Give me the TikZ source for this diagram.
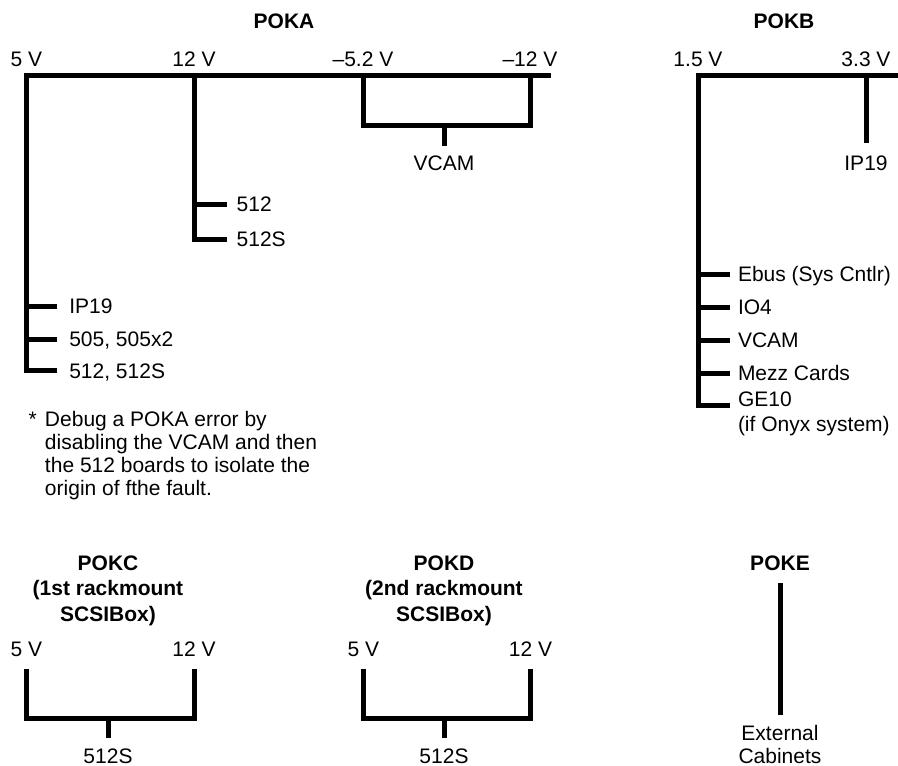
\documentclass[tikz,border=0pt]{standalone}
\usepackage{fontspec}
\setmainfont{Liberation Sans}
\begin{document}
\begin{tikzpicture}[x=1pt,y=-1pt,
  wire/.style={line width=5pt, line join=miter, line cap=butt},
  txt/.style={inner sep=0pt, outer sep=0pt, font=\fontsize{21}{24}\selectfont},
  ttl/.style={txt, anchor=base, font=\fontsize{21}{24}\selectfont\bfseries},
  volt/.style={txt, anchor=base},
  lab/.style={txt, anchor=base west},
  clab/.style={txt, anchor=base}]
\useasboundingbox (0,0) rectangle (898,766);

% ---------------- POKA ----------------
\node[ttl] (pokaT) at (284,28.5) {POKA};
\node[volt] (a5v)  at (26.5,66.5) {5 V};
\node[volt] (a12v) at (194,66.5) {12 V};
\node[volt] (am5v) at (363,66.5) {–5.2 V};
\node[volt] (am12v) at (530,66.5) {–12 V};

\coordinate (aBusL) at (26.5,75);
\coordinate (aBusR) at (550.7,75);
\coordinate (a5bot) at (26.5,370.5);
\coordinate (a5s3) at (56.7,370.5);
\coordinate (a5s1a) at (26.5,306.5); \coordinate (a5s1b) at (56.7,306.5);
\coordinate (a5s2a) at (26.5,339.3); \coordinate (a5s2b) at (56.7,339.3);
\coordinate (a12top) at (194,75);
\coordinate (a12bot) at (194,239.3);
\coordinate (a12s2) at (226.7,239.3);
\coordinate (a12s1a) at (194,204); \coordinate (a12s1b) at (226.7,204);
\coordinate (am5top) at (363,75); \coordinate (am5bot) at (363,125.5);
\coordinate (am12top) at (530,75); \coordinate (am12bot) at (530,125.5);
\coordinate (avcA) at (444,125.5); \coordinate (avcB) at (444,146);

\draw[wire] (a5s3) -- (a5bot) -- (aBusL) -- (aBusR);
\draw[wire] (a5s1a) -- (a5s1b);
\draw[wire] (a5s2a) -- (a5s2b);
\draw[wire] (a12top) -- (a12bot) -- (a12s2);
\draw[wire] (a12s1a) -- (a12s1b);
\draw[wire] (am5top) -- (am5bot) -- (am12bot) -- (am12top);
\draw[wire] (avcA) -- (avcB);

\node[clab] (aVCAM) at (444,170.5) {VCAM};
\node[lab] (a512) at (236.7,211.5) {512};
\node[lab] (a512S) at (236.7,246.5) {512S};
\node[lab] (aIP19) at (69.3,313.5) {IP19};
\node[lab] (a505) at (69.3,346.5) {505, 505x2};
\node[lab] (a512b) at (69.3,378.5) {512, 512S};

\node[lab] (fnStar) at (28.5,426.5) {*};
\node[lab] (fn1) at (45,426.5) {Debug a POKA error by};
\node[lab] (fn2) at (45,449.5) {disabling the VCAM and then};
\node[lab] (fn3) at (45,472.5) {the 512 boards to isolate the};
\node[lab] (fn4) at (45,495.5) {origin of fthe fault.};

% ---------------- POKB ----------------
\node[ttl] (pokbT) at (784,28.5) {POKB};
\node[volt] (b15v) at (698,66.5) {1.5 V};
\node[volt] (b33v) at (866,66.5) {3.3 V};
\coordinate (bBusL) at (698,75);
\coordinate (bBusR) at (900,75);
\coordinate (bbot) at (698,405);
\coordinate (bs5) at (730,405);
\coordinate (b33top) at (866,75); \coordinate (b33bot) at (866,142.5);
\draw[wire] (bs5) -- (bbot) -- (bBusL) -- (bBusR);
\draw[wire] (b33top) -- (b33bot);
\foreach \yy/\nm in {274/1,307/2,340/3,373/4}{
  \coordinate (bsA\nm) at (698,\yy); \coordinate (bsB\nm) at (730,\yy);
  \draw[wire] (bsA\nm) -- (bsB\nm);
}
\node[clab] (bIP19) at (866,170.5) {IP19};
\node[lab] (bEbus) at (738,281) {Ebus (Sys Cntlr)};
\node[lab] (bIO4) at (738,314) {IO4};
\node[lab] (bVCAM) at (738,347) {VCAM};
\node[lab] (bMezz) at (738,380) {Mezz Cards};
\node[lab] (bGE10) at (738,406.5) {GE10};
\node[lab] (bOnyx) at (738,431) {(if Onyx system)};

% ---------------- POKC ----------------
\node[ttl] (pokcT1) at (108,570) {POKC};
\node[ttl] (pokcT2) at (108,595.5) {(1st rackmount};
\node[ttl] (pokcT3) at (108,621) {SCSIBox)};
\node[volt] (c5v) at (26.5,656.5) {5 V};
\node[volt] (c12v) at (194,656.5) {12 V};
\coordinate (c5top) at (26.5,669); \coordinate (c5bot) at (26.5,718);
\coordinate (c12top) at (194,669); \coordinate (c12bot) at (194,718);
\coordinate (csA) at (108,718); \coordinate (csB) at (108,738);
\draw[wire] (c5top) -- (c5bot) -- (c12bot) -- (c12top);
\draw[wire] (csA) -- (csB);
\node[clab] (c512S) at (108,763) {512S};

% ---------------- POKD ----------------
\node[ttl] (pokdT1) at (444,570) {POKD};
\node[ttl] (pokdT2) at (444,595.5) {(2nd rackmount};
\node[ttl] (pokdT3) at (444,621) {SCSIBox)};
\node[volt] (d5v) at (363.5,656.5) {5 V};
\node[volt] (d12v) at (530.5,656.5) {12 V};
\coordinate (d5top) at (363.5,669); \coordinate (d5bot) at (363.5,718);
\coordinate (d12top) at (530.5,669); \coordinate (d12bot) at (530.5,718);
\coordinate (dsA) at (444,718); \coordinate (dsB) at (444,738);
\draw[wire] (d5top) -- (d5bot) -- (d12bot) -- (d12top);
\draw[wire] (dsA) -- (dsB);
\node[clab] (d512S) at (444,763) {512S};

% ---------------- POKE ----------------
\node[ttl] (pokeT) at (780,570) {POKE};
\coordinate (eTop) at (780,583); \coordinate (eBot) at (780,715);
\draw[wire] (eTop) -- (eBot);
\node[clab] (eExt) at (780,740) {External};
\node[clab] (eCab) at (780,763) {Cabinets};
\end{tikzpicture}
\end{document}
